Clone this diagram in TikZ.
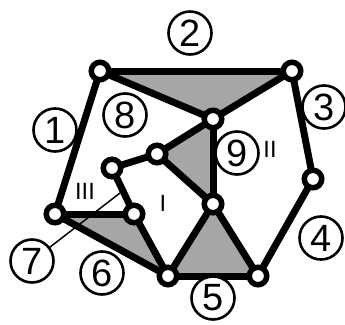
\documentclass[tikz,border=0pt]{standalone}
\usepackage{fontspec}
\setmainfont{Liberation Sans}
\pgfdeclarelayer{bg}
\pgfdeclarelayer{mid}
\pgfsetlayers{bg,mid,main}
\definecolor{shade}{rgb}{0.65,0.65,0.65}
\tikzset{
  vtx/.style={circle, draw=black, line width=5.5pt, fill=white, minimum size=17.5pt, inner sep=0pt},
  lbl/.style={circle, draw=black, line width=2.6pt, fill=white, minimum size=43pt, inner sep=0pt,
              font=\fontsize{38}{38}\selectfont},
  roman/.style={inner sep=0pt, font=\fontsize{23.5}{23.5}\selectfont},
  edge/.style={line width=7pt, line cap=round, line join=round},
  pointer/.style={line width=1.5pt},
  region/.style={fill=shade}
}
\begin{document}
\begin{tikzpicture}[x=1pt,y=-1pt]
\useasboundingbox (0,0) rectangle (345,324);
% vertices
\node[vtx] (A) at (100,71) {};
\node[vtx] (B) at (292,71) {};
\node[vtx] (C) at (213,119) {};
\node[vtx] (D) at (157,154) {};
\node[vtx] (E) at (112,168) {};
\node[vtx] (F) at (313,179) {};
\node[vtx] (G) at (213,204) {};
\node[vtx] (H) at (55,214) {};
\node[vtx] (J) at (134,214) {};
\node[vtx] (K) at (168,276) {};
\node[vtx] (L) at (258,276) {};
% labels
\node[lbl] (n1) at (55,130) {1};
\node[lbl] (n2) at (190,33) {2};
\node[lbl] (n3) at (324,107) {3};
\node[lbl] (n4) at (321,238) {4};
\node[lbl] (n5) at (213,298) {5};
\node[lbl] (n6) at (102,273) {6};
\node[lbl] (n7) at (32,261) {7};
\node[lbl] (n8) at (125,115) {8};
\node[lbl] (n9) at (237,153) {9};
\node[roman] (r2) at (270,149) {II};
\node[roman] (r3) at (85,191) {III};
\node[roman] (r1) at (163,203) {I};
\coordinate (t) at (120,193);
\begin{pgfonlayer}{bg}
  \fill[region] (A.center) -- (B.center) -- (C.center) -- cycle;
  \fill[region] (D.center) -- (C.center) -- (G.center) -- cycle;
  \fill[region] (H.center) -- (J.center) -- (K.center) -- cycle;
  \fill[region] (K.center) -- (G.center) -- (L.center) -- cycle;
\end{pgfonlayer}
\begin{pgfonlayer}{mid}
  \draw[pointer] (n7.center) -- (t);
  \draw[edge] (A.center) -- (B.center);
  \draw[edge] (A.center) -- (C.center);
  \draw[edge] (B.center) -- (C.center);
  \draw[edge] (C.center) -- (D.center);
  \draw[edge] (D.center) -- (E.center);
  \draw[edge] (C.center) -- (G.center);
  \draw[edge] (D.center) -- (G.center);
  \draw[edge] (E.center) -- (J.center);
  \draw[edge] (H.center) -- (J.center);
  \draw[edge] (A.center) -- (H.center);
  \draw[edge] (H.center) -- (K.center);
  \draw[edge] (J.center) -- (K.center);
  \draw[edge] (K.center) -- (G.center);
  \draw[edge] (G.center) -- (L.center);
  \draw[edge] (K.center) -- (L.center);
  \draw[edge] (L.center) -- (F.center);
  \draw[edge] (F.center) -- (B.center);
\end{pgfonlayer}
\end{tikzpicture}
\end{document}
